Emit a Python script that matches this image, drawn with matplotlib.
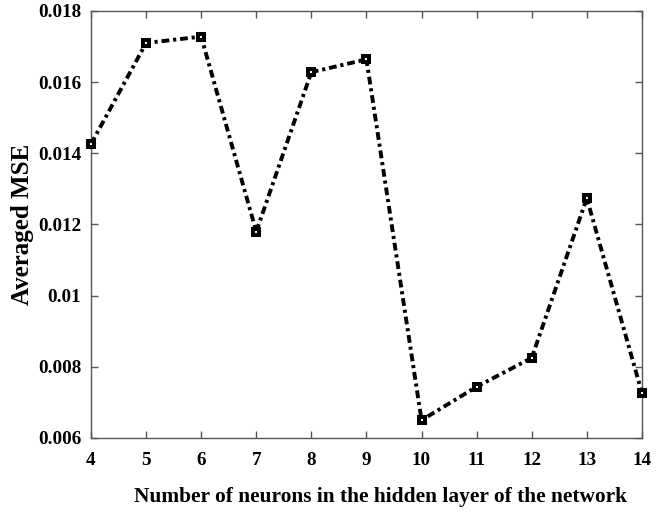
import matplotlib
matplotlib.use("Agg")
import matplotlib.pyplot as plt

neurons = [4, 5, 6, 7, 8, 9, 10, 11, 12, 13, 14]
mse = [0.01426, 0.0171, 0.01728, 0.0118, 0.01628, 0.01664, 0.0065, 0.00744, 0.00825, 0.01274, 0.00727]
yticks = [0.006, 0.008, 0.01, 0.012, 0.014, 0.016, 0.018]
ytick_labels = ["0.006", "0.008", "0.01", "0.012", "0.014", "0.016", "0.018"]

plt.rcParams['font.family'] = ['Liberation Serif', 'DejaVu Serif']
plt.rcParams['font.weight'] = 'bold'

fig = plt.figure(figsize=(6.57, 5.13), dpi=100)
ax = fig.add_axes([0.1385, 0.1462, 0.8385, 0.8324])

ax.plot(neurons, mse, color='black', linewidth=2.8, dashes=(2.0, 1.0, 0.8, 1.0),
        marker='s', markersize=5, markerfacecolor='white', markeredgecolor='black',
        markeredgewidth=2.9, clip_on=False, zorder=5)

ax.set_xlim(4, 14)
ax.set_ylim(0.006, 0.018)
ax.set_xticks(neurons)
ax.set_yticks(yticks)
ax.set_yticklabels(ytick_labels)

for s in ax.spines.values():
    s.set_color('#555555')
    s.set_linewidth(1.0)

ax.tick_params(direction='in', top=True, right=True, length=5, width=1, color='#555555',
               labelsize=13.8)
ax.tick_params(axis='x', pad=10)
ax.tick_params(axis='y', pad=7)
for lab in ax.get_xticklabels() + ax.get_yticklabels():
    lab.set_fontweight('bold')

ax.set_xlabel('Number of neurons in the hidden layer of the network', fontsize=15.4,
              fontweight='bold')
ax.xaxis.set_label_coords(0.525, -0.115)
ax.set_ylabel('Averaged MSE', fontsize=18, fontweight='bold', labelpad=3)

fig.savefig('out.png', dpi=100)
